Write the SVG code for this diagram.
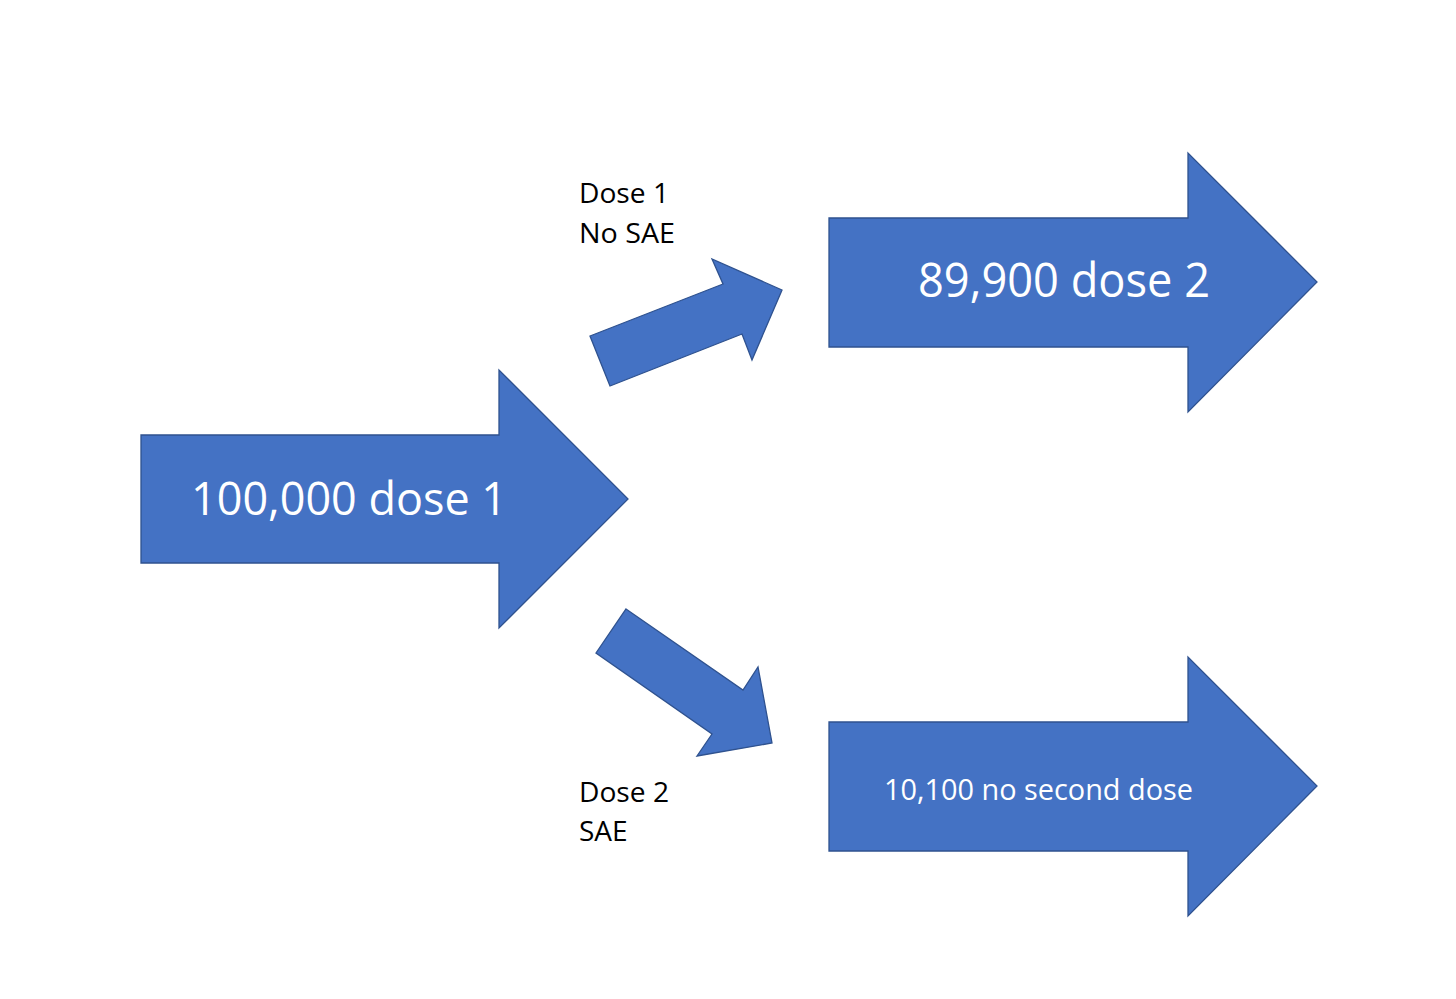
<svg xmlns="http://www.w3.org/2000/svg" width="1456" height="999" viewBox="0 0 1456 999">
<style>
.arr{fill:#4472C4;stroke:#2F528F;stroke-width:1.3;stroke-linejoin:miter}
.wt{fill:#FFFFFF;font-family:"Open Sans","Noto Sans","Liberation Sans",sans-serif}
.lb{fill:#000000;font-family:"Open Sans","Noto Sans","Liberation Sans",sans-serif;font-size:28px}
</style>
<rect x="0" y="0" width="1456" height="999" fill="#FFFFFF"/>
<g id="node-dose1">
<polygon class="arr" points="141,435 499,435 499,370 628,499 499,628 499,563 141,563"/>
<text class="wt" x="191" y="515" font-size="45" textLength="316" lengthAdjust="spacingAndGlyphs">100,000 dose 1</text>
</g>
<g id="node-dose2">
<polygon class="arr" points="829,218 1188,218 1188,153 1317,282 1188,412 1188,347 829,347"/>
<text class="wt" x="918" y="297" font-size="47" textLength="292" lengthAdjust="spacingAndGlyphs">89,900 dose 2</text>
</g>
<g id="node-nosecond">
<polygon class="arr" points="829,722 1188,722 1188,657 1317,786 1188,916 1188,851 829,851"/>
<text class="wt" x="884" y="800" font-size="29" textLength="309" lengthAdjust="spacingAndGlyphs">10,100 no second dose</text>
</g>
<g id="connectors">
<polygon class="arr" points="590,336 723,284 712,259 782,290 752,360 742,334 610,386"/>
<polygon class="arr" points="626,609 743,690 758,667 772,743 697,756 712,734 596,653"/>
</g>
<g id="label-top">
<text class="lb" x="579" y="203" textLength="90" lengthAdjust="spacingAndGlyphs">Dose 1</text>
<text class="lb" x="579" y="243" textLength="96" lengthAdjust="spacingAndGlyphs">No SAE</text>
</g>
<g id="label-bottom">
<text class="lb" x="579" y="802" textLength="90" lengthAdjust="spacingAndGlyphs">Dose 2</text>
<text class="lb" x="579" y="841">SAE</text>
</g>
</svg>
